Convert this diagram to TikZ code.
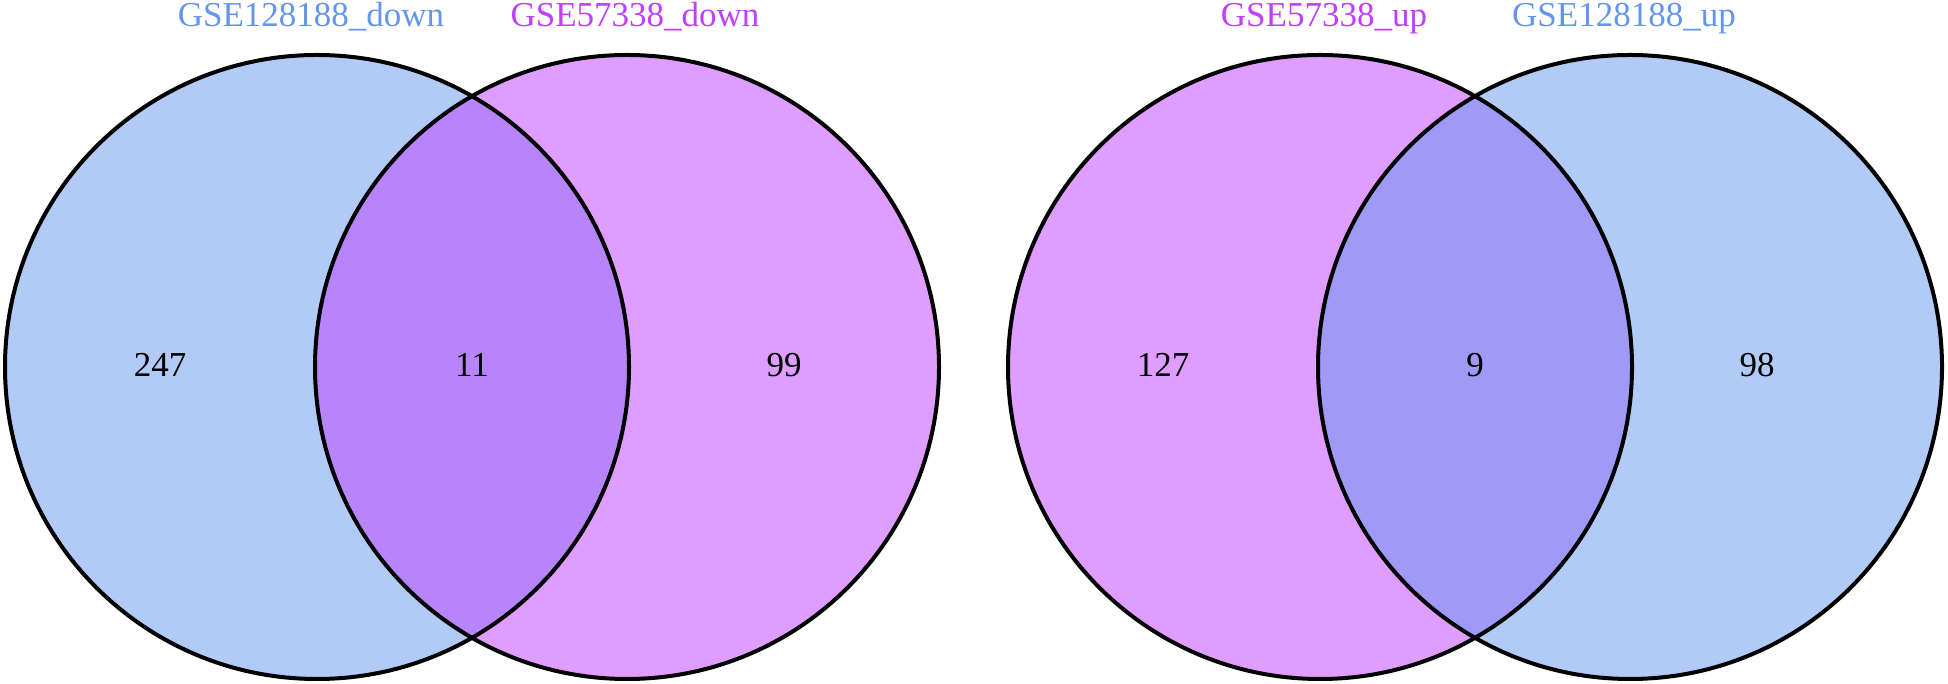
\documentclass[tikz,border=0pt]{standalone}
\usepackage{fontspec}
\setmainfont{Liberation Serif}
\definecolor{cblue}{RGB}{100,149,237}
\definecolor{corchid}{RGB}{191,62,255}
\tikzset{
  setfill/.style={circle, minimum size=624pt, inner sep=0pt, fill opacity=0.5},
  ring/.style={draw=black, line width=4pt},
  setlabel/.style={anchor=base, inner sep=0pt, font=\fontsize{35}{42}\selectfont},
  count/.style={anchor=base, inner sep=0pt, text=black, font=\fontsize{35}{42}\selectfont}
}
\begin{document}
\begin{tikzpicture}[x=1pt,y=1pt]
\useasboundingbox (0,0) rectangle (1948,684);
% left diagram: down
\node[setfill, fill=cblue] (dA) at (317,317) {};
\node[setfill, fill=corchid] (dB) at (627,317) {};
% right diagram: up
\node[setfill, fill=corchid] (uA) at (1320,317) {};
\node[setfill, fill=cblue] (uB) at (1630,317) {};
% outlines
\draw[ring] (dA.center) circle[radius=312];
\draw[ring] (dB.center) circle[radius=312];
\draw[ring] (uA.center) circle[radius=312];
\draw[ring] (uB.center) circle[radius=312];
% titles
\node[setlabel, text=cblue] (tdA) at (311,657) {GSE128188\_down};
\node[setlabel, text=corchid] (tdB) at (635,657) {GSE57338\_down};
\node[setlabel, text=corchid] (tuA) at (1324,657) {GSE57338\_up};
\node[setlabel, text=cblue] (tuB) at (1624,657) {GSE128188\_up};
% counts
\node[count] (n1) at (160,307) {247};
\node[count] (n2) at (472,307) {11};
\node[count] (n3) at (784,307) {99};
\node[count] (n4) at (1163,307) {127};
\node[count] (n5) at (1475,307) {9};
\node[count] (n6) at (1757,307) {98};
\end{tikzpicture}
\end{document}
